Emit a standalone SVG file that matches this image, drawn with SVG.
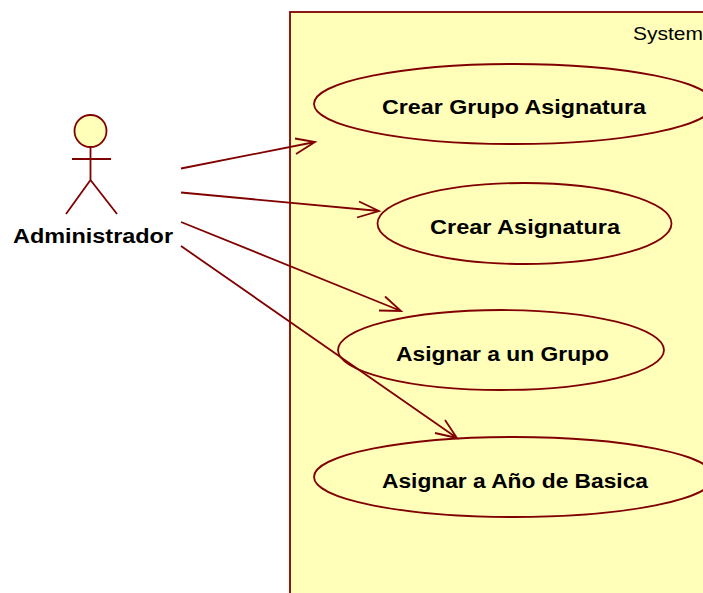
<svg xmlns="http://www.w3.org/2000/svg" width="703" height="593" viewBox="0 0 703 593">
<style>
.l{fill:none;stroke:#800000;stroke-width:1.8}
.u{fill:#ffffb9;stroke:#800000;stroke-width:1.8}
.t{font-family:"Liberation Sans",Arial,sans-serif;font-weight:700;font-size:20px;fill:#000;text-anchor:start}
</style>
<rect width="703" height="593" fill="#fff"/>
<g id="system"><rect class="u" x="290" y="12" width="430" height="600"/>
<text x="633" y="40" font-family="'Liberation Sans',Arial,sans-serif" font-size="19" textLength="70" lengthAdjust="spacingAndGlyphs" fill="#000">System</text></g>
<g id="actor">
<circle class="u" cx="90.500" cy="131" r="16"/>
<path class="l" d="M90.500 147V180M72 159H111M90.500 180L66 214M90.500 180L117 214"/>
<text class="t" x="13" y="243" textLength="160" lengthAdjust="spacingAndGlyphs">Administrador</text>
</g>
<g id="uc1"><ellipse class="u" cx="514" cy="104" rx="200" ry="40"/>
<text class="t" x="382" y="114" textLength="264" lengthAdjust="spacingAndGlyphs">Crear Grupo Asignatura</text></g>
<g id="uc2"><ellipse class="u" cx="524.500" cy="223.500" rx="147" ry="40.500"/>
<text class="t" x="430" y="234" textLength="190" lengthAdjust="spacingAndGlyphs">Crear Asignatura</text></g>
<g id="uc3"><ellipse class="u" cx="501" cy="350" rx="163" ry="40"/>
<text class="t" x="396" y="361" textLength="213" lengthAdjust="spacingAndGlyphs">Asignar a un Grupo</text></g>
<g id="uc4"><ellipse class="u" cx="514" cy="477" rx="200" ry="40"/>
<text class="t" x="382" y="488" textLength="266" lengthAdjust="spacingAndGlyphs">Asignar a Año de Basica</text></g>
<g id="connectors">
<path class="l" d="M181 168.500L315 142M295 138.500L315 142L296 154"/>
<path class="l" d="M181 192.500L379 211M359 201.500L379 211L357 217.500"/>
<path class="l" d="M181 222L401 311M385 296.500L401 311L379 310.500"/>
<path class="l" d="M181 246L457 438M445 420L457 438L435 433"/>
</g>
</svg>
